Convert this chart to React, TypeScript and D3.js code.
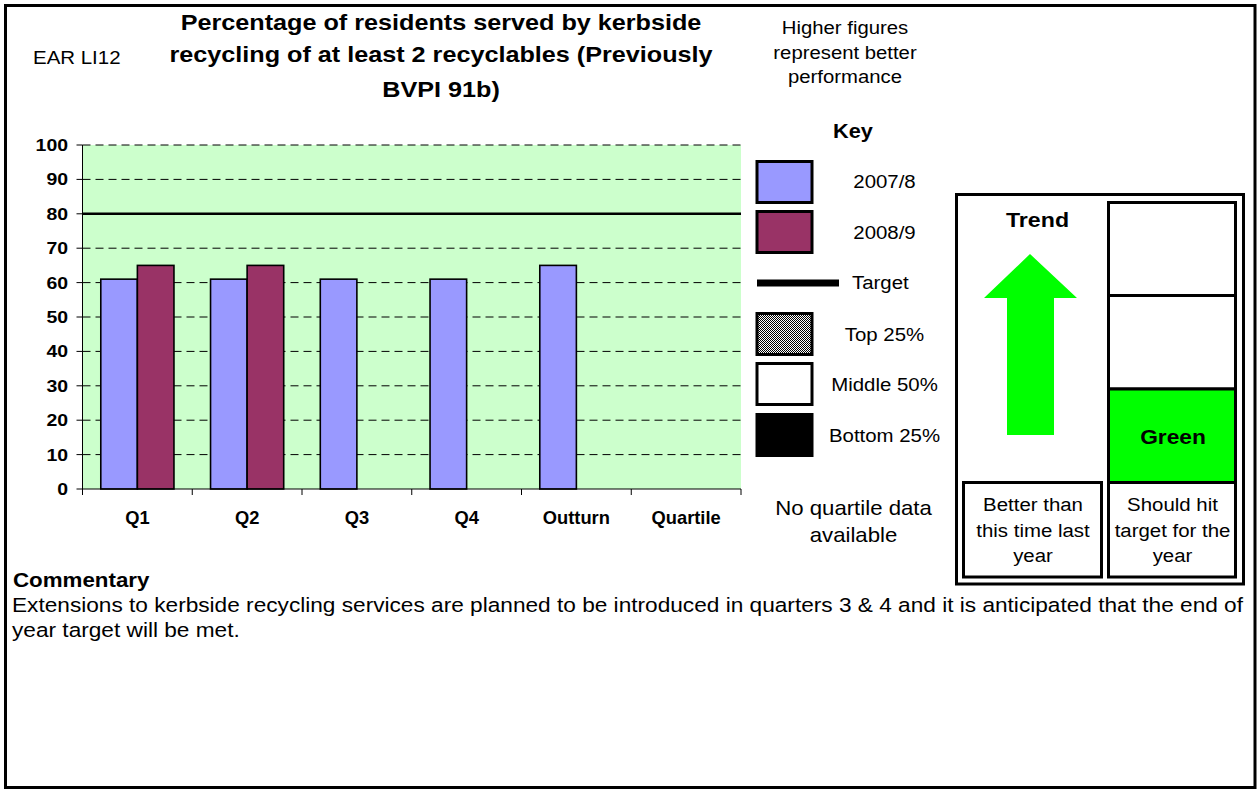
import React, { useEffect } from "react";
import * as d3 from "d3";

// Chart data
const categories = ["Q1", "Q2", "Q3", "Q4", "Outturn", "Quartile"];
const seriesNames = ["2007/8", "2008/9"];
const values2007 = [61, 61, 61, 61, 65, null];
const values2008 = [65, 65, null, null, null, null];
const targetValue = 80;
const yTicks = [0, 10, 20, 30, 40, 50, 60, 70, 80, 90, 100];

const titleLines = [
  "Percentage of residents served by kerbside",
  "recycling of at least 2 recyclables (Previously",
  "BVPI 91b)",
];
const noteLines = ["Higher figures", "represent better", "performance"];
const keyItems = ["2007/8", "2008/9", "Target", "Top 25%", "Middle 50%", "Bottom 25%"];
const quartileNote = ["No quartile data", "available"];
const trendText = ["Better than", "this time last", "year"];
const targetText = ["Should hit", "target for the", "year"];
const commentaryLines = [
  "Extensions to kerbside recycling services are planned to be introduced in quarters 3 & 4 and it is anticipated that the end of",
  "year target will be met.",
];

const FONT = "'Liberation Sans', Arial, Helvetica, sans-serif";
const colors: Record<string, string> = { "2007/8": "#9999FF", "2008/9": "#993366" };

// Text with a slight horizontal widening, anchored at (x, y)
function T(props: {
  x: number;
  y: number;
  size: number;
  sx?: number;
  bold?: boolean;
  anchor?: "start" | "middle" | "end";
  children: React.ReactNode;
}) {
  const { x, y, size, sx = 1.1, bold, anchor = "start", children } = props;
  return (
    <text
      transform={`translate(${x},${y}) scale(${sx},1)`}
      fontSize={size}
      fontWeight={bold ? "bold" : "normal"}
      textAnchor={anchor}
      fill="#000"
    >
      {children}
    </text>
  );
}

export default function App() {
  useEffect(() => {
    document.body.style.margin = "0";
  }, []);

  const W = 1258;
  const H = 789;
  const plot = { left: 82.5, right: 741, top: 145, bottom: 489 };

  const x = d3.scaleBand<string>().domain(categories).range([plot.left, plot.right]).paddingInner(0).paddingOuter(0);
  const x1 = d3.scaleBand<string>().domain(seriesNames).range([0, x.bandwidth()]).paddingInner(0).paddingOuter(0.5);
  const y = d3.scaleLinear().domain([0, 100]).range([plot.bottom, plot.top]);

  const series = [
    { name: "2007/8", values: values2007 },
    { name: "2008/9", values: values2008 },
  ];

  const keyY = [160, 210, 0, 312, 362, 413];
  const keyLabelY = [188, 239, 289, 341, 391, 442];
  const titleY = [30, 62, 97];
  const noteY = [34, 58.5, 83];

  return (
    <svg width={W} height={H} style={{ display: "block", fontFamily: FONT }}>
      <defs>
        <pattern id="dither" width="2" height="2" patternUnits="userSpaceOnUse">
          <rect width="2" height="2" fill="#ffffff" />
          <rect x="0" y="0" width="1" height="1" fill="#000" />
          <rect x="1" y="1" width="1" height="1" fill="#000" />
        </pattern>
      </defs>
      <rect x={0} y={0} width={W} height={H} fill="#fff" />
      {/* outer frame */}
      <rect x={5.5} y={5.5} width={1249.5} height={782} fill="none" stroke="#000" strokeWidth={3} />

      {/* heading */}
      <T x={33} y={64} size={18.9} sx={1.083}>EAR LI12</T>
      {titleLines.map((t, i) => (
        <T key={t} x={441} y={titleY[i]} size={22.7} sx={1.11} bold anchor="middle">
          {t}
        </T>
      ))}
      {noteLines.map((t, i) => (
        <T key={t} x={845} y={noteY[i]} size={18.9} sx={1.074} anchor="middle">
          {t}
        </T>
      ))}

      {/* plot area */}
      <rect x={plot.left} y={plot.top} width={plot.right - plot.left} height={plot.bottom - plot.top} fill="#CCFFCC" />
      {yTicks.filter((v) => v !== 0 && v !== targetValue).map((v) => (
        <line key={v} x1={plot.left} x2={plot.right} y1={y(v)} y2={y(v)} stroke="#000" strokeWidth={1} strokeDasharray="8,5" />
      ))}
      {yTicks.map((v) => (
        <g key={v}>
          <line x1={plot.left - 6} x2={plot.left} y1={y(v)} y2={y(v)} stroke="#000" strokeWidth={1} />
          <T x={68} y={y(v) + 6} size={16.2} sx={1.2} bold anchor="end">
            {v}
          </T>
        </g>
      ))}

      {/* bars */}
      {series.map((s) =>
        s.values.map((v, i) =>
          v == null ? null : (
            <rect
              key={s.name + i}
              x={(x(categories[i]) as number) + (x1(s.name) as number)}
              y={y(v)}
              width={x1.bandwidth()}
              height={y(0) - y(v)}
              fill={colors[s.name]}
              stroke="#000"
              strokeWidth={1.6}
            />
          )
        )
      )}

      {/* target */}
      <line x1={plot.left} x2={plot.right} y1={y(targetValue)} y2={y(targetValue)} stroke="#000" strokeWidth={2.4} />

      {/* axes */}
      <line x1={plot.left} x2={plot.left} y1={plot.top} y2={plot.bottom} stroke="#000" strokeWidth={1} />
      <line x1={plot.left} x2={plot.right} y1={plot.bottom} y2={plot.bottom} stroke="#000" strokeWidth={1.2} />
      {categories.map((c) => (
        <line key={c + "t"} x1={x(c) as number} x2={x(c) as number} y1={plot.bottom} y2={plot.bottom + 6} stroke="#000" strokeWidth={1} />
      ))}
      <line x1={plot.right} x2={plot.right} y1={plot.bottom} y2={plot.bottom + 6} stroke="#000" strokeWidth={1} />
      {categories.map((c) => (
        <T key={c} x={(x(c) as number) + x.bandwidth() / 2} y={524} size={17.8} sx={1.03} bold anchor="middle">
          {c}
        </T>
      ))}

      {/* key */}
      <T x={853} y={137.5} size={19.4} sx={1.12} bold anchor="middle">Key</T>
      {keyItems.map((k, i) => {
        const yy = keyY[i];
        let swatch: React.ReactNode;
        if (k === "Target") {
          swatch = <rect x={757} y={279.5} width={82} height={7} fill="#000" />;
        } else {
          const fill =
            k === "2007/8" ? colors["2007/8"] : k === "2008/9" ? colors["2008/9"] : k === "Top 25%" ? "url(#dither)" : k === "Middle 50%" ? "#fff" : "#000";
          swatch = <rect x={757} y={yy + 1.5} width={55} height={41} fill={fill} stroke="#000" strokeWidth={3} />;
        }
        return (
          <g key={k}>
            {swatch}
            <T x={k === "Target" ? 852 : 884.5} y={keyLabelY[i]} size={18.4} sx={1.11} anchor={k === "Target" ? "start" : "middle"}>
              {k}
            </T>
          </g>
        );
      })}
      {quartileNote.map((t, i) => (
        <T key={t} x={853.5} y={515 + i * 27} size={20} sx={1.11} anchor="middle">
          {t}
        </T>
      ))}

      {/* trend and forecast panel */}
      <rect x={956.5} y={194.5} width={287} height={389.5} fill="#fff" stroke="#000" strokeWidth={3} />
      <T x={1037.5} y={227} size={20.5} sx={1.13} bold anchor="middle">Trend</T>
      <path d="M1030,254 L1077,298 L1054,298 L1054,435 L1007,435 L1007,298 L984,298 Z" fill="#00FF00" />
      <rect x={963.5} y={482.5} width={138} height={94.5} fill="#fff" stroke="#000" strokeWidth={3} />
      {trendText.map((t, i) => (
        <T key={t} x={1033} y={511 + i * 25.5} size={18.4} sx={1.11} anchor="middle">
          {t}
        </T>
      ))}
      <rect x={1108.5} y={202.5} width={127} height={93} fill="#fff" stroke="#000" strokeWidth={3} />
      <rect x={1108.5} y={295.5} width={127} height={93.5} fill="#fff" stroke="#000" strokeWidth={3} />
      <rect x={1108.5} y={389} width={127} height={93.5} fill="#00FF00" stroke="#000" strokeWidth={3} />
      <rect x={1108.5} y={482.5} width={127} height={94.5} fill="#fff" stroke="#000" strokeWidth={3} />
      <T x={1173} y={443.5} size={20.5} sx={1.11} bold anchor="middle">Green</T>
      {targetText.map((t, i) => (
        <T key={t} x={1172.5} y={511 + i * 25.5} size={18.4} sx={1.11} anchor="middle">
          {t}
        </T>
      ))}

      {/* commentary */}
      <T x={13} y={587} size={19.5} sx={1.145} bold>Commentary</T>
      {commentaryLines.map((t, i) => (
        <T key={i} x={12} y={612 + i * 24.5} size={20.5} sx={1.105}>
          {t}
        </T>
      ))}
    </svg>
  );
}
